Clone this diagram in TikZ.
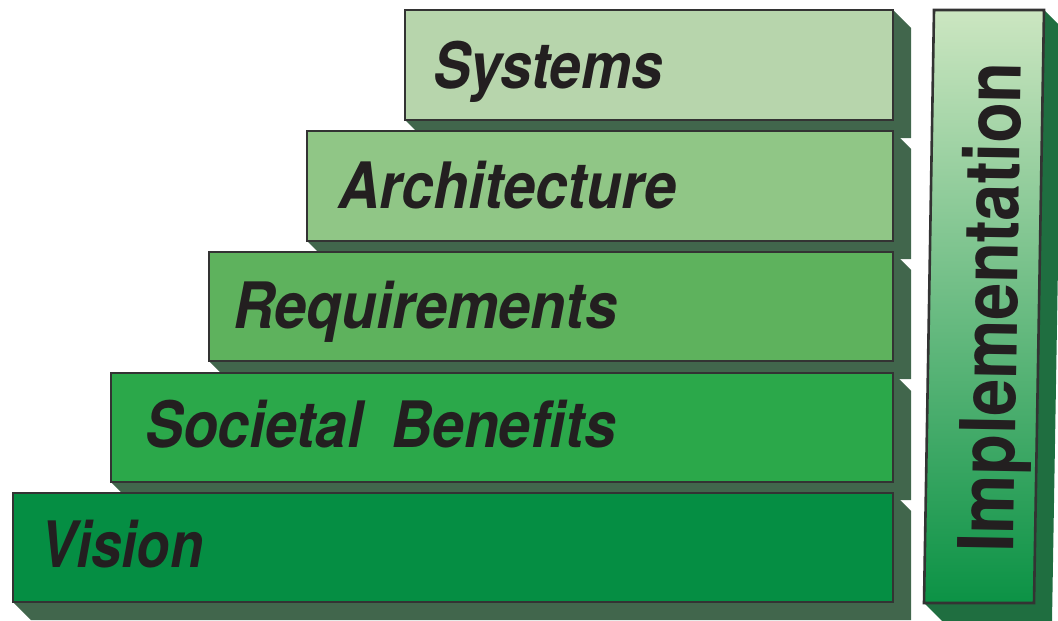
\documentclass[tikz,border=0pt]{standalone}
\usepackage{fontspec}
\setmainfont{TeX Gyre Heros}
\usetikzlibrary{calc}
\definecolor{edge}{HTML}{333333}
\definecolor{depth}{HTML}{41664C}
\definecolor{depthI}{HTML}{1F6E40}
\definecolor{cSys}{HTML}{B7D5AC}
\definecolor{cArc}{HTML}{90C686}
\definecolor{cReq}{HTML}{5EB25D}
\definecolor{cSoc}{HTML}{2BA84A}
\definecolor{cVis}{HTML}{058E43}
\definecolor{cTop}{HTML}{CCE6C1}
\definecolor{cMid}{HTML}{86C479}
\definecolor{cBot}{HTML}{0B9245}
\definecolor{ink}{HTML}{231F20}
\tikzset{
  frontbox/.style={draw=edge, line width=2.6pt},
  extrude/.style={fill=depth},
  label/.style={anchor=base west, inner sep=0pt, text=ink,
    font=\fontsize{64}{64}\selectfont\bfseries\itshape},
}
\newcommand{\stepbar}[5]{%
  % #1 name, #2 left, #3 top, #4 bottom, #5 colour
  \fill[extrude] (893,#3) -- (911,#3+18) -- (911,#4+18) -- (#2+18,#4+18) -- (#2,#4) -- cycle;
  \draw[frontbox, fill=#5] (#2,#3) rectangle (893,#4);
  \coordinate (#1) at (#2,#3);
}
\begin{document}
\begin{tikzpicture}[x=1pt,y=-1pt]
\useasboundingbox (0,0) rectangle (1058,621);
\clip (0,0) rectangle (1058,621);
% stacked bars (drawn top to bottom so lower extrusions sit over)
\stepbar{sys}{405}{10}{120}{cSys}
\stepbar{arc}{307}{131}{241}{cArc}
\stepbar{req}{209}{252}{361}{cReq}
\stepbar{soc}{111}{373}{482}{cSoc}
\stepbar{vis}{13}{493}{602}{cVis}
\node[label] (tSys) at (433,88) {\scalebox{0.88}[1]{Systems}};
\node[label] (tArc) at (338,208) {\scalebox{0.9}[1]{Architecture}};
\node[label] (tReq) at (233,328) {\scalebox{0.9}[1]{Requirements}};
\node[label] (tSoc) at (145,447) {\scalebox{0.89}[1]{Societal\hspace{0.5em}Benefits}};
\node[label] (tVis) at (40,567) {\scalebox{0.85}[1]{Vision}};
% Implementation column
\fill[depthI] (1044,10) -- (1062,28) -- (1052,621) -- (942,621) -- (924,603) -- cycle;
\shade[top color=cTop, middle color=cMid, bottom color=cBot] (934,10) -- (1044,10) -- (1034,603) -- (924,603) -- cycle;
\draw[frontbox] (934,10) -- (1044,10) -- (1034,603) -- (924,603) -- cycle;
\node[anchor=base west, inner sep=0pt, text=ink, rotate=89,
  font=\fontsize{77}{77}\selectfont\bfseries] (tImp) at (1013,553) {\scalebox{0.86}[1]{Implementation}};
\end{tikzpicture}
\end{document}
